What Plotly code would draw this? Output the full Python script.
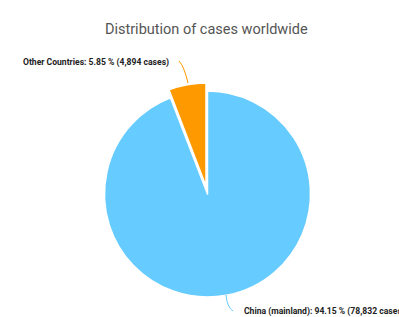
import plotly.graph_objects as go

labels = ["China (mainland)", "Other Countries"]
cases = [78832, 4894]
percents = ["94.15", "5.85"]
colors = ["#66CCFF", "#FF9900"]
title = "Distribution of cases worldwide"

W, H = 399, 317

def px(x):
    return x / W

def py(y):
    return 1 - y / H

fig = go.Figure(go.Pie(
    labels=labels,
    values=cases,
    sort=False,
    direction="clockwise",
    rotation=0,
    pull=[0, 0.08],
    marker=dict(colors=colors, line=dict(color="white", width=1.5)),
    textinfo="none",
    hoverinfo="label+value+percent",
    showlegend=False,
    domain=dict(x=[px(96.25), px(318.75)], y=[py(305.25), py(82.75)]),
))

texts = [f"<b>{l}: {p} % ({c:,} cases)</b>" for l, p, c in zip(labels, percents, cases)]

annotations = [
    dict(text=texts[1], x=px(171), y=py(63), xref="paper", yref="paper",
         xanchor="right", yanchor="middle", showarrow=False,
         font=dict(family="Roboto", size=8.6, color="#222222")),
    dict(text=texts[0], x=px(242), y=py(311), xref="paper", yref="paper",
         xanchor="left", yanchor="middle", showarrow=False,
         font=dict(family="Roboto", size=8.6, color="#222222")),
]

shapes = [
    dict(type="path", xref="paper", yref="paper",
         path=f"M {px(179)} {py(61)} Q {px(184)} {py(66)} {px(188)} {py(83)}",
         line=dict(color="#FF9900", width=1)),
    dict(type="path", xref="paper", yref="paper",
         path=f"M {px(226)} {py(295)} Q {px(227)} {py(307)} {px(233)} {py(311)}",
         line=dict(color="#66CCFF", width=1)),
]

fig.update_layout(
    width=W, height=H,
    margin=dict(l=0, r=0, t=0, b=0),
    paper_bgcolor="white",
    plot_bgcolor="white",
    title=dict(text=title, x=0.517, xanchor="center", y=py(29), yanchor="middle",
               font=dict(family="Roboto", size=14.5, color="#555555")),
    annotations=annotations,
    shapes=shapes,
)

fig.write_html("out.html")
